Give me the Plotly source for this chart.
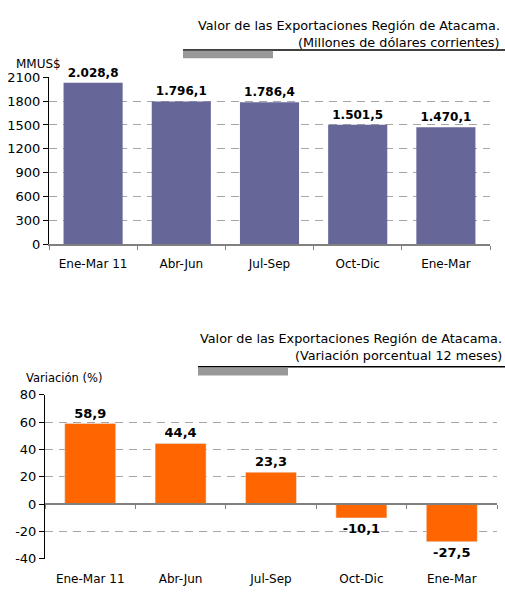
import plotly.graph_objects as go

categories = ["Ene-Mar 11", "Abr-Jun", "Jul-Sep", "Oct-Dic", "Ene-Mar"]
export_values = [2028.8, 1796.1, 1786.4, 1501.5, 1470.1]
variation_values = [58.9, 44.4, 23.3, -10.1, -27.5]
top_ticks = [0, 300, 600, 900, 1200, 1500, 1800, 2100]
bottom_ticks = [-40, -20, 0, 20, 40, 60, 80]

title_top_1 = "Valor de las Exportaciones Región de Atacama."
title_top_2 = "(Millones de dólares corrientes)"
title_bot_1 = "Valor de las Exportaciones Región de Atacama."
title_bot_2 = "(Variación porcentual 12 meses)"

W, H = 505, 597
FONT = "DejaVu Sans"


def px(x):
    return x / W


def py(y):
    return 1 - y / H


def es_number(v):
    # Spanish style: "." thousands, "," decimals, ascii hyphen for minus
    s = f"{v:,.1f}"
    return s.replace(",", "X").replace(".", ",").replace("X", ".")


label_font = dict(family=FONT, size=12, color="black")
ytick_font = dict(family=FONT, size=13, color="black")
title_font = dict(family=FONT, size=12.8, color="black")
grid = dict(gridcolor="#a6a6a6", griddash="8px,6px", gridwidth=1)

fig = go.Figure()
fig.add_trace(go.Bar(
    x=categories, y=export_values, xaxis="x", yaxis="y",
    marker=dict(color="#666699", line=dict(width=0)),
    text=[f"<b>{es_number(v)}</b>" for v in export_values],
    textposition="outside",
    textfont=dict(family=FONT, size=12, color="black"),
    cliponaxis=False, constraintext="none", width=0.67,
    hoverinfo="skip",
))
fig.add_trace(go.Bar(
    x=categories, y=variation_values, xaxis="x2", yaxis="y2",
    marker=dict(color="#FF6600", line=dict(width=0)),
    text=[f"<b>{es_number(v)}</b>" for v in variation_values],
    textposition="outside",
    textfont=dict(family=FONT, size=13, color="black"),
    cliponaxis=False, constraintext="none", width=0.564,
    hoverinfo="skip",
))
# invisible trace carrying the label axis of the lower chart
fig.add_trace(go.Bar(
    x=categories, y=variation_values, xaxis="x3", yaxis="y2",
    marker=dict(color="rgba(0,0,0,0)"), width=0.564,
    hoverinfo="skip", showlegend=False,
))

zero_paper = py(509.7)

fig.update_layout(
    width=W, height=H,
    margin=dict(l=0, r=0, t=0, b=0),
    paper_bgcolor="white", plot_bgcolor="white",
    showlegend=False,
    font=dict(family=FONT, size=12, color="black"),
    xaxis=dict(
        domain=[px(49), px(490)], anchor="y", type="category",
        showline=True, linecolor="#808080", linewidth=1.5,
        ticks="outside", tickson="boundaries", ticklen=4, tickcolor="#808080",
        tickfont=label_font, ticklabelstandoff=7, showgrid=False,
    ),
    yaxis=dict(
        domain=[py(243.5), py(72)], anchor="x", range=[0, 2100],
        tickvals=top_ticks, ticktext=[str(v) for v in top_ticks],
        showline=True, linecolor="black", linewidth=1,
        ticks="outside", ticklen=5, tickcolor="black",
        tickfont=ytick_font, zeroline=False, **grid,
    ),
    xaxis2=dict(
        domain=[px(45), px(497)], anchor="free", position=zero_paper,
        type="category",
        showline=True, linecolor="#808080", linewidth=1.5,
        ticks="outside", tickson="boundaries", ticklen=4, tickcolor="#808080",
        showticklabels=False, showgrid=False,
    ),
    xaxis3=dict(
        domain=[px(45), px(497)], anchor="y2", overlaying="x2", type="category",
        showline=False, ticks="", showticklabels=True, tickfont=label_font,
        ticklabelstandoff=11, showgrid=False,
    ),
    yaxis2=dict(
        domain=[py(566), py(397.7)], anchor="x2", range=[-40, 80],
        tickvals=bottom_ticks, ticktext=[str(v) for v in bottom_ticks],
        showline=True, linecolor="black", linewidth=1,
        ticks="outside", ticklen=5, tickcolor="black",
        tickfont=ytick_font, zeroline=False, **grid,
    ),
    annotations=[
        dict(text=title_top_1, x=px(502), y=py(19), xref="paper", yref="paper",
             xanchor="right", yanchor="middle", showarrow=False, font=title_font),
        dict(text=title_top_2, x=px(502), y=py(36), xref="paper", yref="paper",
             xanchor="right", yanchor="middle", showarrow=False, font=title_font),
        dict(text="MMUS$", x=px(38.5), y=py(58), xref="paper", yref="paper",
             xanchor="center", yanchor="middle", showarrow=False, font=label_font),
        dict(text=title_bot_1, x=px(504), y=py(340), xref="paper", yref="paper",
             xanchor="right", yanchor="middle", showarrow=False, font=title_font),
        dict(text=title_bot_2, x=px(504), y=py(357), xref="paper", yref="paper",
             xanchor="right", yanchor="middle", showarrow=False, font=title_font),
        dict(text="Variación (%)", x=px(63.5), y=py(381), xref="paper", yref="paper",
             xanchor="center", yanchor="middle", showarrow=False,
             font=dict(family=FONT, size=11.5, color="black")),
    ],
    shapes=[
        dict(type="line", xref="paper", yref="paper", x0=px(183), x1=1,
             y0=py(44), y1=py(44), line=dict(color="black", width=1.5)),
        dict(type="rect", xref="paper", yref="paper", x0=px(183), x1=px(273),
             y0=py(52.5), y1=py(45), fillcolor="#999999", line=dict(width=0)),
        dict(type="line", xref="paper", yref="paper", x0=px(198), x1=1,
             y0=py(369), y1=py(369), line=dict(color="black", width=1.5)),
        dict(type="rect", xref="paper", yref="paper", x0=px(198), x1=px(288),
             y0=py(378), y1=py(370), fillcolor="#999999", line=dict(width=0)),
    ],
)

post = (
    "document.documentElement.style.margin='0';"
    "document.documentElement.style.overflow='hidden';"
    "document.body.style.margin='0';"
    "document.body.style.overflow='hidden';"
    "var gd=document.getElementById('{plot_id}');"
    "gd.style.position='absolute';gd.style.left='0px';gd.style.top='0px';"
)

fig.write_html("out.html", config={"displayModeBar": False}, post_script=post)
